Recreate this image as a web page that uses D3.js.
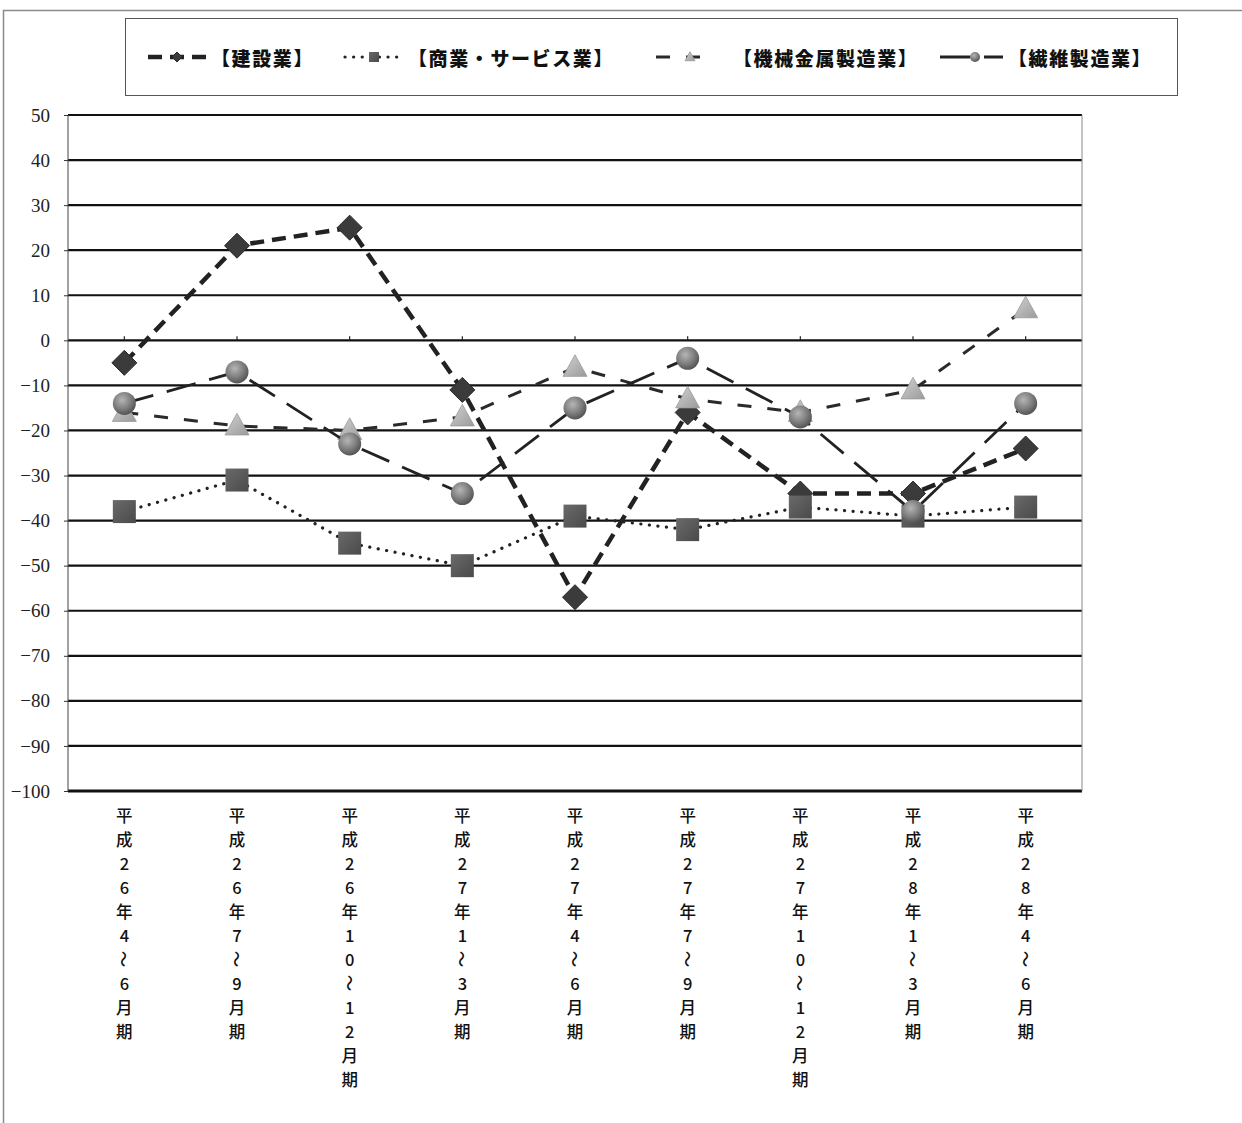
<!DOCTYPE html>
<html>
<head>
<meta charset="utf-8">
<script src="https://cdn.jsdelivr.net/npm/d3@7"></script>
<style>
  html, body { margin: 0; padding: 0; background: #fff; }
  svg { display: block; }
</style>
</head>
<body>
<script>
// Periods (quarters)
const categories = [
  "平成26年4～6月期",
  "平成26年7～9月期",
  "平成26年10～12月期",
  "平成27年1～3月期",
  "平成27年4～6月期",
  "平成27年7～9月期",
  "平成27年10～12月期",
  "平成28年1～3月期",
  "平成28年4～6月期"
];

// Series names
const seriesNames = ["【建設業】", "【商業・サービス業】", "【機械金属製造業】", "【繊維製造業】"];

// Series values (DI)
const construction = [-5, 21, 25, -11, -57, -16, -34, -34, -24];
const commerce     = [-38, -31, -45, -50, -39, -42, -37, -39, -37];
const machinery    = [-16, -19, -20, -17, -6, -13, -16, -11, 7];
const textile      = [-14, -7, -23, -34, -15, -4, -17, -38, -14];

// Y axis ticks
const yTicks = [50, 40, 30, 20, 10, 0, -10, -20, -30, -40, -50, -60, -70, -80, -90, -100];

const W = 1242, H = 1123;
const plot = { left: 68, right: 1082, top: 115, bottom: 791 };

const svg = d3.select("body").append("svg")
  .attr("width", W).attr("height", H)
  .style("background", "#fff");

const defs = svg.append("defs");
const ball = defs.append("radialGradient").attr("id", "ball")
  .attr("cx", "40%").attr("cy", "35%").attr("r", "65%");
ball.append("stop").attr("offset", "0%").attr("stop-color", "#b5b5b5");
ball.append("stop").attr("offset", "60%").attr("stop-color", "#7e7e7e");
ball.append("stop").attr("offset", "100%").attr("stop-color", "#555");
const tri = defs.append("linearGradient").attr("id", "tri")
  .attr("x1", "0").attr("y1", "0").attr("x2", "1").attr("y2", "1");
tri.append("stop").attr("offset", "0%").attr("stop-color", "#d2d2d2");
tri.append("stop").attr("offset", "100%").attr("stop-color", "#9a9a9a");
const sq = defs.append("linearGradient").attr("id", "sq")
  .attr("x1", "0").attr("y1", "0").attr("x2", "1").attr("y2", "1");
sq.append("stop").attr("offset", "0%").attr("stop-color", "#6a6a6a");
sq.append("stop").attr("offset", "100%").attr("stop-color", "#4a4a4a");

// Outer frame
svg.append("path")
  .attr("d", `M3.5,${H} V10.5 H${W}`)
  .attr("fill", "none").attr("stroke", "#8a8a8a").attr("stroke-width", 1.5);

// Scales
const x = d3.scaleBand().domain(categories).range([plot.left, plot.right]).padding(0);
const cx = c => x(c) + x.bandwidth() / 2;
const y = d3.scaleLinear().domain([-100, 50]).range([plot.bottom, plot.top]);

// Gridlines
svg.append("g").selectAll("line").data(yTicks).join("line")
  .attr("x1", plot.left).attr("x2", plot.right)
  .attr("y1", d => y(d)).attr("y2", d => y(d))
  .attr("stroke", "#111")
  .attr("stroke-width", d => d === -100 ? 3 : 2.2);

// Plot area sides
svg.append("line").attr("x1", plot.left).attr("x2", plot.left)
  .attr("y1", plot.top).attr("y2", plot.bottom)
  .attr("stroke", "#444").attr("stroke-width", 1);
svg.append("line").attr("x1", plot.right).attr("x2", plot.right)
  .attr("y1", plot.top).attr("y2", plot.bottom)
  .attr("stroke", "#888").attr("stroke-width", 1);

// Y axis
const yAxis = d3.axisLeft(y).tickValues(yTicks).tickSize(4).tickPadding(14)
  .tickFormat(d3.format("d"));
const gy = svg.append("g").attr("transform", `translate(${plot.left},0)`).call(yAxis);
gy.attr("font-family", null).attr("font-size", null);
gy.select(".domain").remove();
gy.selectAll(".tick line").attr("stroke", "#333");
gy.selectAll(".tick text")
  .style("font-family", "'Liberation Serif', 'DejaVu Serif', serif")
  .style("font-size", "19px").attr("fill", "#222");

// Category tick marks on the zero line
svg.append("g").selectAll("line").data(categories).join("line")
  .attr("x1", d => cx(d)).attr("x2", d => cx(d))
  .attr("y1", y(0)).attr("y2", y(0) - 4)
  .attr("stroke", "#222").attr("stroke-width", 1.2);

// Category labels, stacked vertically one character per row
const xl = svg.append("g");
categories.forEach(c => {
  const chars = Array.from(c);
  chars.forEach((ch, i) => {
    const px = cx(c), py = 815 + i * 24;
    const t = xl.append("text")
      .attr("x", px).attr("y", py)
      .attr("text-anchor", "middle")
      .attr("dominant-baseline", "central")
      .style("font-family", "'Noto Sans CJK JP', sans-serif")
      .style("font-size", "16.5px")
      .style("font-weight", 500)
      .attr("fill", "#111")
      .text(ch);
    if (ch === "～") t.attr("transform", `rotate(90 ${px} ${py})`);
  });
});

// Series definitions
const series = [
  { name: seriesNames[0], values: construction, stroke: "#222", width: 4.5, dash: "14,8", marker: "diamond" },
  { name: seriesNames[1], values: commerce, stroke: "#222", width: 3.2, dash: "0.1,8.5", cap: "round", marker: "square" },
  { name: seriesNames[2], values: machinery, stroke: "#2a2a2a", width: 3, dash: "14,16", marker: "triangle" },
  { name: seriesNames[3], values: textile, stroke: "#222", width: 2.8, dash: "30,14", marker: "circle" }
];

function drawMarker(g, kind, px, py, s) {
  if (kind === "diamond") {
    g.append("path").attr("d", `M${px},${py - s} L${px + s},${py} L${px},${py + s} L${px - s},${py} Z`)
      .attr("fill", "#3b3b3b").attr("stroke", "#2a2a2a").attr("stroke-width", 1);
  } else if (kind === "square") {
    g.append("rect").attr("x", px - s).attr("y", py - s).attr("width", 2 * s).attr("height", 2 * s)
      .attr("fill", "url(#sq)");
  } else if (kind === "triangle") {
    g.append("path").attr("d", `M${px},${py - s * 1.05} L${px + s},${py + s * 0.75} L${px - s},${py + s * 0.75} Z`)
      .attr("fill", "url(#tri)").attr("stroke", "#999").attr("stroke-width", 0.8);
  } else {
    g.append("circle").attr("cx", px).attr("cy", py).attr("r", s).attr("fill", "url(#ball)");
  }
}

const line = d3.line().x((d, i) => cx(categories[i])).y(d => y(d));

series.forEach(s => {
  const g = svg.append("g");
  g.append("path").datum(s.values)
    .attr("d", line)
    .attr("fill", "none")
    .attr("stroke", s.stroke)
    .attr("stroke-width", s.width)
    .attr("stroke-dasharray", s.dash)
    .attr("stroke-linecap", s.cap || "butt");
  const size = { diamond: 12.5, square: 11.5, triangle: 12, circle: 11.5 }[s.marker];
  s.values.forEach((v, i) => drawMarker(g, s.marker, cx(categories[i]), y(v), size));
});

// Legend
svg.append("rect").attr("x", 125.5).attr("y", 18.5).attr("width", 1052).attr("height", 77)
  .attr("fill", "none").attr("stroke", "#555").attr("stroke-width", 1);

const legendItems = [
  { s: series[0], x0: 148, x1: 206, mx: 177, tx: 211 },
  { s: series[1], x0: 345, x1: 403, mx: 374, tx: 408 },
  { s: series[2], x0: 656, x1: 713, mx: 690, tx: 733 },
  { s: series[3], x0: 940, x1: 1003, mx: 975, tx: 1008 }
];
const ly = 57;
legendItems.forEach(it => {
  const g = svg.append("g");
  g.append("line").attr("x1", it.x0).attr("x2", it.x1).attr("y1", ly).attr("y2", ly)
    .attr("stroke", it.s.stroke)
    .attr("stroke-width", it.s.width)
    .attr("stroke-dasharray", it.s.dash)
    .attr("stroke-linecap", it.s.cap || "butt");
  drawMarker(g, it.s.marker, it.mx, ly, 5);
  g.append("text").attr("x", it.tx).attr("y", ly)
    .attr("dominant-baseline", "central")
    .style("font-family", "'Noto Sans CJK JP', sans-serif")
    .style("font-weight", 900)
    .style("font-size", "19px")
    .attr("letter-spacing", 1.6)
    .attr("fill", "#111")
    .text(it.s.name);
});
</script>
</body>
</html>
